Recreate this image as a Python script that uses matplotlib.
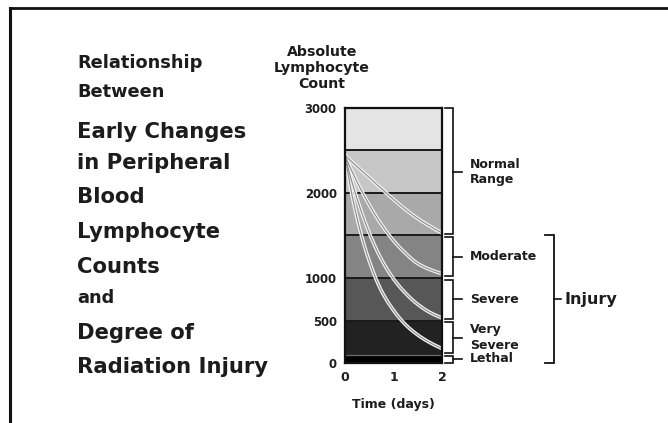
import numpy as np
import matplotlib
matplotlib.use("Agg")
import matplotlib.pyplot as plt
from matplotlib.lines import Line2D

# ---------------- data ----------------
time_days = [0.0, 0.25, 0.5, 0.75, 1.0, 1.25, 1.5, 1.75, 2.0]
curve_1 = [2450, 2310, 2180, 2050, 1925, 1805, 1700, 1610, 1530]
curve_2 = [2450, 2130, 1860, 1630, 1440, 1290, 1170, 1100, 1050]
curve_3 = [2450, 1930, 1530, 1220, 990, 820, 690, 595, 530]
curve_4 = [2450, 1700, 1200, 850, 620, 450, 330, 240, 170]

band_edges = [0, 100, 500, 1000, 1500, 2000, 2500, 3000]
y_ticks = [0, 500, 1000, 2000, 3000]
x_ticks = [0, 1, 2]

level_labels = ["Normal\nRange", "Moderate", "Severe", "Very\nSevere", "Lethal"]
level_low = [1500, 1000, 500, 100, 0]
level_high = [3000, 1500, 1000, 500, 100]

injury_low, injury_high = 0, 1500

title_lines = ["Relationship", "Between", "Early Changes", "in Peripheral", "Blood",
               "Lymphocyte", "Counts", "and", "Degree of", "Radiation Injury"]
title_sizes = [12.8, 12.8, 15.2, 15.2, 15.2, 15.2, 15.2, 12.8, 15.2, 15.2]
title_y_px = [63, 92, 132, 163, 197, 232, 267, 298, 333, 367]

# ---------------- style ----------------
band_colors = ["#000000", "#222222", "#575757", "#848484", "#a9a9a9", "#c7c7c7", "#e4e4e4"]
FONT = "DejaVu Sans"
plt.rcParams["font.family"] = [FONT]
TXT = "#1c1c1c"

W, H = 668, 423
fig = plt.figure(figsize=(W / 100, H / 100), dpi=100)
fig.patch.set_facecolor("white")

# frame (top and left only)
fig.add_artist(Line2D([10 / W, 1.0], [1 - 8.5 / H, 1 - 8.5 / H], color="#111111", lw=2.0))
fig.add_artist(Line2D([10 / W, 10 / W], [0.0, 1 - 8.5 / H], color="#111111", lw=2.2))

# title text
for txt, fs, ypx in zip(title_lines, title_sizes, title_y_px):
    fig.text(77 / W, 1 - ypx / H, txt, fontsize=fs, fontweight="bold", color=TXT,
             ha="left", va="center", family=FONT)

left, right = 345 / W, 442 / W
bottom, top = 1 - 363 / H, 1 - 108 / H
ax = fig.add_axes([left, bottom, right - left, top - bottom])
ax.set_xlim(0, 2)
ax.set_ylim(0, 3000)

# bands
for i in range(len(band_edges) - 1):
    ax.axhspan(band_edges[i], band_edges[i + 1], color=band_colors[i], lw=0, zorder=1)
for e in band_edges[2:-1]:
    ax.axhline(e, color="#1a1a1a", lw=1.4, zorder=2)
ax.axhline(band_edges[1], color="#6a6a6a", lw=0.9, zorder=2)


def pchip(x, y, n=200):
    """Monotone cubic (Fritsch-Carlson) drawing path through the data points."""
    x = np.asarray(x, float)
    y = np.asarray(y, float)
    h = np.diff(x)
    d = np.diff(y) / h
    m = np.zeros_like(y)
    for k in range(1, len(x) - 1):
        if d[k - 1] * d[k] > 0:
            w1 = 2 * h[k] + h[k - 1]
            w2 = h[k] + 2 * h[k - 1]
            m[k] = (w1 + w2) / (w1 / d[k - 1] + w2 / d[k])
    m[0] = d[0] * 1.25
    m[-1] = d[-1] * 0.9
    xs = np.linspace(x[0], x[-1], n)
    idx = np.clip(np.searchsorted(x, xs) - 1, 0, len(x) - 2)
    t = (xs - x[idx]) / h[idx]
    h00 = 2 * t ** 3 - 3 * t ** 2 + 1
    h10 = t ** 3 - 2 * t ** 2 + t
    h01 = -2 * t ** 3 + 3 * t ** 2
    h11 = t ** 3 - t ** 2
    ys = h00 * y[idx] + h10 * h[idx] * m[idx] + h01 * y[idx + 1] + h11 * h[idx] * m[idx + 1]
    return xs, ys


for c in [curve_1, curve_2, curve_3, curve_4]:
    sx, sy = pchip(time_days, c)
    ax.plot(sx, sy, color="#f2f2f2", lw=2.6, solid_capstyle="butt", zorder=3)
    ax.plot(sx, sy, color="#8a8a8a", lw=0.8, solid_capstyle="butt", zorder=4)

for s in ax.spines.values():
    s.set_linewidth(1.6)
    s.set_color("#111111")
    s.set_zorder(6)

ax.set_yticks(y_ticks)
ax.set_yticklabels([str(v) for v in y_ticks])
ax.set_xticks(x_ticks)
ax.set_xticklabels([str(v) for v in x_ticks])
ax.tick_params(axis="y", length=0, pad=6, labelsize=8.4, labelcolor=TXT)
ax.tick_params(axis="x", length=0, pad=6, labelsize=9, labelcolor=TXT)
for lab in ax.get_xticklabels() + ax.get_yticklabels():
    lab.set_fontweight("bold")

ax.set_xlabel("Time (days)", fontsize=9, fontweight="bold", color=TXT, labelpad=10)
fig.text(322 / W, 1 - 68 / H, "Absolute\nLymphocyte\nCount", fontsize=10.2, fontweight="bold",
         color=TXT, ha="center", va="center", linespacing=1.2)

# right-hand level brackets
bx, hook_x, tick_x, lab_x = 2.22, 2.06, 2.42, 2.58
gap = 18
for lab, lo, hi in zip(level_labels, level_low, level_high):
    y0 = lo + (gap if lo > 0 else 0)
    y1 = hi - (gap if hi < 3000 else 0)
    ax.plot([hook_x, bx, bx, hook_x], [y1, y1, y0, y0], color="#111111", lw=1.2,
            clip_on=False, zorder=5, solid_joinstyle="miter")
    mid = (lo + hi) / 2
    ax.plot([bx, tick_x], [mid, mid], color="#111111", lw=1.2, clip_on=False, zorder=5)
    ax.text(lab_x, mid, lab, fontsize=9, fontweight="bold", color=TXT,
            ha="left", va="center", linespacing=1.25, clip_on=False)

# injury bracket
ix, ihook, itick = 4.31, 4.13, 4.46
ax.plot([ihook, ix, ix, ihook], [injury_high, injury_high, injury_low, injury_low],
        color="#111111", lw=1.3, clip_on=False, zorder=5, solid_joinstyle="miter")
imid = (injury_low + injury_high) / 2
ax.plot([ix, itick], [imid, imid], color="#111111", lw=1.2, clip_on=False, zorder=5)
ax.text(4.52, imid, "Injury", fontsize=11.5, fontweight="bold", color=TXT,
        ha="left", va="center", clip_on=False)

fig.savefig("out.png", dpi=100, facecolor="white")
